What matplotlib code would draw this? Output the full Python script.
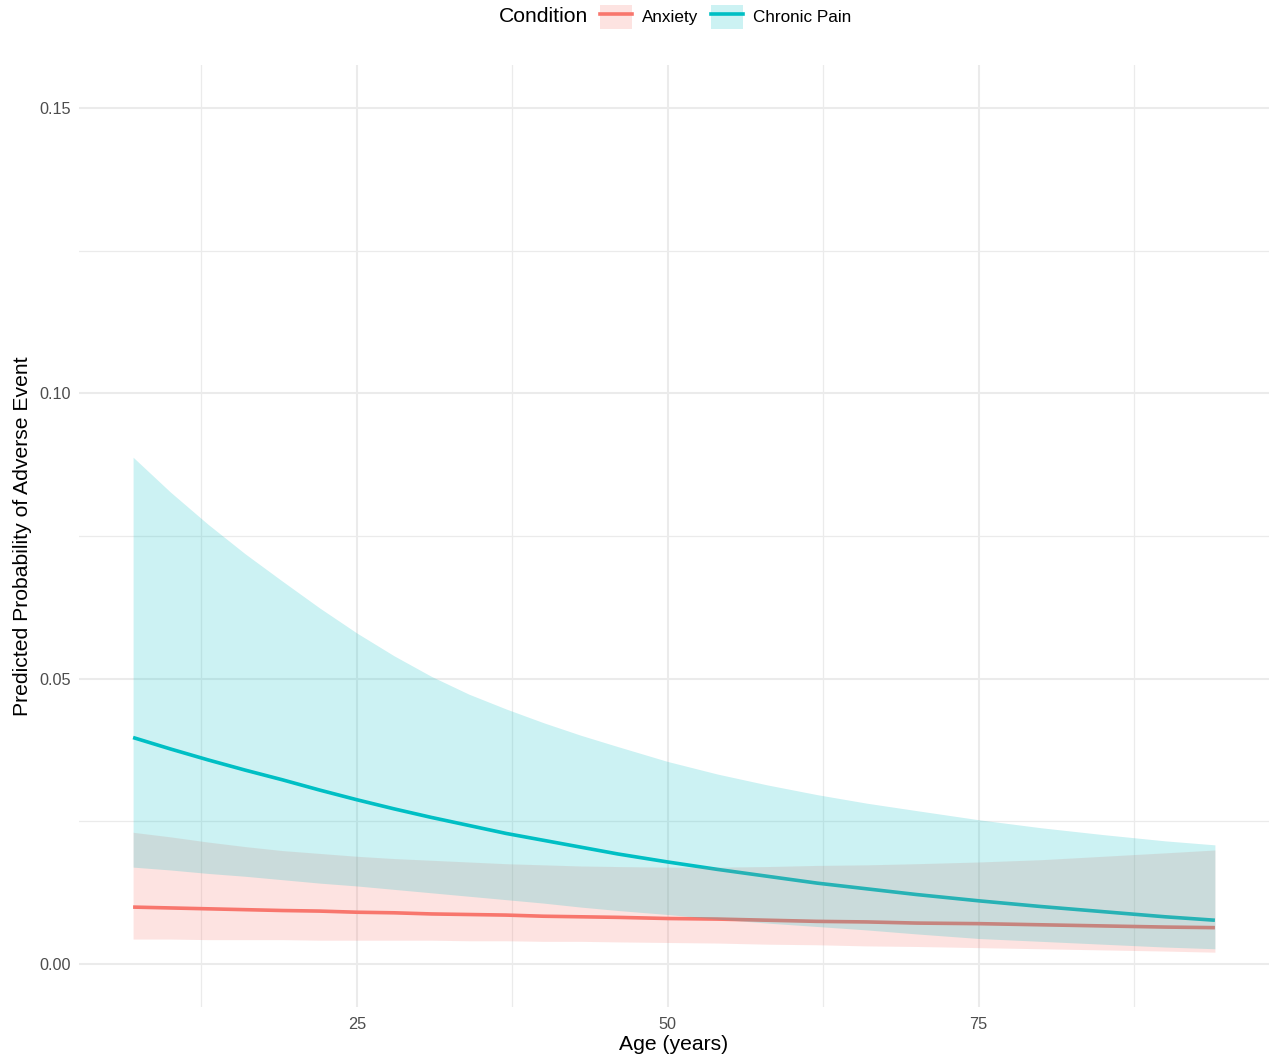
import matplotlib
matplotlib.use("Agg")
import matplotlib.pyplot as plt
from matplotlib.patches import Patch
from matplotlib.lines import Line2D
from matplotlib.legend_handler import HandlerTuple

plt.rcParams['font.family'] = ['Liberation Sans', 'DejaVu Sans']

# dados
idade = [7, 10, 13, 16, 19, 22, 25, 28, 31, 34, 37, 40, 43, 46, 50, 54, 58, 62, 66, 70, 75, 80, 85, 90, 94]

ans_fit = [0.0100, 0.00985, 0.0097, 0.00955, 0.0094, 0.0093, 0.0091, 0.0090, 0.0088, 0.0087, 0.0086, 0.0084, 0.0083,
           0.0082, 0.0080, 0.0079, 0.0077, 0.0075, 0.0074, 0.0072, 0.0071, 0.0069, 0.0067, 0.0065, 0.0064]
ans_hi = [0.0231, 0.0223, 0.0214, 0.0206, 0.0199, 0.0194, 0.0189, 0.0185, 0.0182, 0.0179, 0.0176, 0.0174, 0.0172,
          0.0171, 0.0170, 0.0170, 0.0171, 0.0173, 0.0174, 0.0176, 0.0179, 0.0183, 0.0189, 0.0195, 0.0200]
ans_lo = [0.0044, 0.0044, 0.0043, 0.0043, 0.0043, 0.0042, 0.0042, 0.0042, 0.0042, 0.0041, 0.0041, 0.0040, 0.0040,
          0.0039, 0.0038, 0.0037, 0.0035, 0.0034, 0.0032, 0.0031, 0.0029, 0.0027, 0.0025, 0.0023, 0.0021]

dor_fit = [0.0397, 0.0377, 0.0358, 0.0340, 0.0323, 0.0305, 0.0288, 0.0272, 0.0257, 0.0243, 0.0229, 0.0217, 0.0205,
           0.0193, 0.0179, 0.0166, 0.0154, 0.0142, 0.0132, 0.0122, 0.0111, 0.0101, 0.0092, 0.0083, 0.0077]
dor_hi = [0.0888, 0.0827, 0.0771, 0.0719, 0.0671, 0.0624, 0.0580, 0.0540, 0.0504, 0.0473, 0.0447, 0.0423, 0.0401,
          0.0381, 0.0355, 0.0333, 0.0314, 0.0297, 0.0282, 0.0269, 0.0253, 0.0239, 0.0227, 0.0216, 0.0209]
dor_lo = [0.0170, 0.0165, 0.0159, 0.0154, 0.0148, 0.0142, 0.0137, 0.0131, 0.0125, 0.0119, 0.0113, 0.0107, 0.0100,
          0.0094, 0.0087, 0.0079, 0.0072, 0.0066, 0.0060, 0.0053, 0.0045, 0.0040, 0.0035, 0.0030, 0.0027]

condicoes = ["Anxiety", "Chronic Pain"]
cores = ["#F8766D", "#00BFC4"]

x_ticks = [25, 50, 75]
y_ticks = [0.00, 0.05, 0.10, 0.15]
y_labels = ["0.00", "0.05", "0.10", "0.15"]

fig = plt.figure(figsize=(12.8, 10.62), dpi=100)
ax = fig.add_axes([79/1280, 1 - 1007/1062, (1269-79)/1280, (1007-65)/1062])

# linhas primeiro, faixas por cima (como no original)
ax.plot(idade, ans_fit, color=cores[0], lw=2.6, zorder=2, solid_capstyle='butt')
ax.plot(idade, dor_fit, color=cores[1], lw=2.6, zorder=2, solid_capstyle='butt')
ax.fill_between(idade, ans_lo, ans_hi, color=cores[0], alpha=0.2, lw=0, zorder=3)
ax.fill_between(idade, dor_lo, dor_hi, color=cores[1], alpha=0.2, lw=0, zorder=3)

ax.set_xlim(2.65, 98.35)
ax.set_ylim(-0.0075, 0.1575)
ax.set_xticks(x_ticks)
ax.set_xticks([12.5, 37.5, 62.5, 87.5], minor=True)
ax.set_yticks(y_ticks)
ax.set_yticklabels(y_labels)
ax.set_yticks([0.025, 0.075, 0.125], minor=True)

ax.grid(True, which='major', color='#EBEBEB', lw=1.5, zorder=0)
ax.grid(True, which='minor', color='#EBEBEB', lw=0.9, zorder=0)
ax.set_axisbelow(True)
for s in ax.spines.values():
    s.set_visible(False)
ax.tick_params(which='both', length=0, labelsize=11.7, labelcolor='#4D4D4D')
ax.tick_params(axis='y', pad=6)
ax.tick_params(axis='x', pad=7)

ax.set_xlabel("Age (years)", fontsize=15.2, color='black', labelpad=2)
ax.set_ylabel("Predicted Probability of Adverse Event", fontsize=15.2, color='black', labelpad=5)

# legenda no topo
fig.text(588/1280, 1 - 17/1062, "Condition", ha='right', va='center', fontsize=15.2)
handles = []
for c in cores:
    handles.append((Patch(facecolor=c, alpha=0.2, edgecolor='none'), Line2D([], [], color=c, lw=2.6)))
fig.legend(handles, condicoes, handler_map={tuple: HandlerTuple(ndivide=1, pad=0)},
           loc='center left', bbox_to_anchor=(600/1280, 1 - 17/1062), ncol=2, frameon=False,
           fontsize=12.3, handlelength=1.87, handleheight=1.87, handletextpad=0.58,
           columnspacing=0.76, borderpad=0, borderaxespad=0)

plt.savefig("out.png", dpi=100)
